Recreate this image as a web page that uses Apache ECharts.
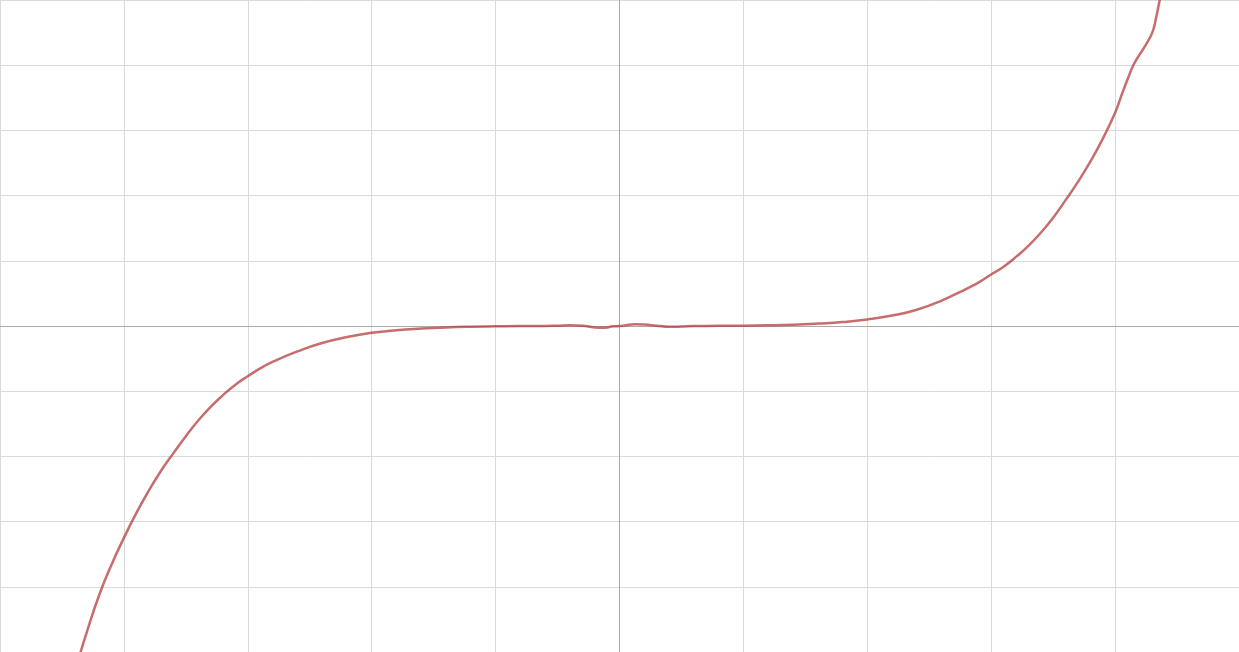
<!DOCTYPE html>
<html>
<head>
<meta charset="utf-8">
<style>
  html, body { margin: 0; padding: 0; background: #fff; }
  #chart { width: 1239px; height: 652px; }
</style>
<script src="https://cdn.jsdelivr.net/npm/echarts@6/dist/echarts.min.js"></script>
</head>
<body>
<div id="chart"></div>
<script>
// x positions and the curve values
const xs = [
  -4.4, -4.3, -4.2, -4.1, -4.0, -3.9, -3.8, -3.7, -3.6, -3.5, -3.4, -3.3, -3.2, -3.1, -3.0, -2.9,
  -2.8, -2.6, -2.4, -2.2, -2.0,
  -1.8, -1.6, -1.4, -1.2, -1.0, -0.8, -0.6, -0.5, -0.4, -0.3, -0.2, -0.12, -0.05, 0,
  0.05, 0.12, 0.2, 0.3, 0.4, 0.5, 0.6, 0.8, 1.0, 1.2, 1.4, 1.6, 1.8, 2.0,
  2.2, 2.4, 2.6, 2.8, 2.9, 3.0, 3.1, 3.2, 3.3, 3.4, 3.5, 3.6, 3.7, 3.8, 3.9, 4.0,
  4.05, 4.1, 4.15, 4.2, 4.25, 4.3, 4.33, 4.36, 4.4
];
const ys = [
  -5.32, -4.7, -4.13, -3.66, -3.25, -2.87, -2.53, -2.22, -1.95, -1.69, -1.45, -1.24, -1.06, -0.9, -0.77, -0.65,
  -0.55, -0.39, -0.26, -0.17, -0.105,
  -0.065, -0.04, -0.022, -0.011, -0.005, 0, 0, 0.005, 0.012, 0.005, -0.022, -0.025, -0.005, 0,
  0.01, 0.025, 0.022, 0.005, -0.012, -0.008, 0, 0.002, 0.004, 0.01, 0.02, 0.037, 0.06, 0.1,
  0.16, 0.25, 0.39, 0.57, 0.67, 0.79, 0.91, 1.06, 1.23, 1.43, 1.66, 1.93, 2.21, 2.52, 2.87, 3.27,
  3.53, 3.78, 4.01, 4.17, 4.32, 4.5, 4.72, 5.0, 5.35
];

const chart = echarts.init(document.getElementById("chart"));

const axisBase = {
  type: "value",
  min: -5,
  max: 5,
  interval: 1,
  axisLine: { onZero: true, lineStyle: { color: "#aaa", width: 1 } },
  axisTick: { show: false },
  axisLabel: { show: false },
  splitLine: { show: true, lineStyle: { color: "#dadada", width: 1 } },
};

chart.setOption({
  animation: false,
  backgroundColor: "#fff",
  grid: { left: 0, right: 0, top: 0, bottom: 0 },
  xAxis: { ...axisBase },
  yAxis: { ...axisBase },
  series: [
    {
      type: "line",
      data: xs.map((x, i) => [x, ys[i]]),
      showSymbol: false,
      smooth: 0.5,
      clip: true,
      lineStyle: { color: "rgba(180,60,60,0.75)", width: 2.5 },
      itemStyle: { color: "rgba(180,60,60,0.75)" },
    },
  ],
});
</script>
</body>
</html>
